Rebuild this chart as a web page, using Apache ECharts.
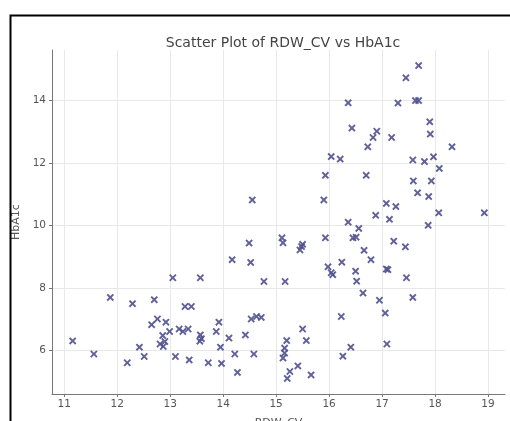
<!DOCTYPE html>
<html>
<head>
<meta charset="utf-8">
<script src="https://cdn.jsdelivr.net/npm/echarts@6/dist/echarts.min.js"></script>
<style>html,body{margin:0;padding:0;background:#fff;}#c{width:510px;height:421px;}</style>
</head>
<body>
<div id="c"></div>
<script>
const rdwCv = [11.16,11.56,11.87,12.19,12.29,12.42,12.51,12.65,12.70,12.76,12.81,12.86,12.87,12.90,12.92,12.99,13.05,13.10,13.17,13.24,13.28,13.40,13.34,13.36,13.57,13.57,13.59,13.56,13.72,13.87,13.92,13.95,13.97,14.11,14.17,14.22,14.27,14.42,14.49,14.52,14.53,14.55,14.58,14.63,14.72,14.77,15.11,15.13,15.13,15.16,15.16,15.17,15.20,15.21,15.26,15.41,15.45,15.48,15.50,15.50,15.57,15.66,15.90,15.93,15.93,15.98,16.04,16.07,16.04,16.21,16.23,16.24,16.26,16.36,16.36,16.41,16.43,16.45,16.51,16.50,16.52,16.56,16.64,16.66,16.70,16.73,16.79,16.83,16.88,16.90,16.95,17.06,17.08,17.08,17.11,17.09,17.14,17.18,17.22,17.26,17.30,17.44,17.45,17.46,17.58,17.58,17.59,17.63,17.69,17.67,17.69,17.80,17.87,17.88,17.90,17.91,17.93,17.97,18.07,18.08,18.32,18.93];
const hba1c = [6.31,5.89,7.70,5.61,7.50,6.11,5.81,6.83,7.63,7.01,6.21,6.48,6.13,6.29,6.91,6.61,8.33,5.81,6.69,6.61,7.41,7.41,6.69,5.70,8.33,6.50,6.38,6.30,5.61,6.61,6.91,6.11,5.59,6.40,8.91,5.89,5.30,6.50,9.44,8.82,7.01,10.82,5.89,7.09,7.06,8.21,9.61,9.45,5.76,6.08,5.92,8.21,6.32,5.11,5.33,5.51,9.22,9.33,9.40,6.69,6.32,5.22,10.82,11.61,9.61,8.68,8.49,8.43,12.21,12.13,7.09,8.83,5.82,10.11,13.93,6.11,13.12,9.61,9.63,8.54,8.22,9.91,7.84,9.21,11.61,12.52,8.91,12.82,10.33,13.02,7.61,7.20,10.71,8.61,8.59,6.21,10.20,12.82,9.50,10.61,13.92,9.32,14.73,8.33,7.70,12.10,11.43,14.00,14.00,11.05,15.12,12.05,10.01,10.93,13.32,12.93,11.43,12.20,10.41,11.83,12.52,10.41];
const xTicks = [11,12,13,14,15,16,17,18,19];
const yTicks = [6,8,10,12,14];

const points = rdwCv.map((v, i) => [v, hba1c[i]]);
const xPath = 'path://M0,1.8L1.8,0L5,3.2L8.2,0L10,1.8L6.8,5L10,8.2L8.2,10L5,6.8L1.8,10L0,8.2L3.2,5Z';
const font = 'DejaVu Sans';
const chart = echarts.init(document.getElementById('c'));
chart.setOption({
  animation: false,
  backgroundColor: '#fff',
  title: {
    text: 'Scatter Plot of RDW_CV vs HbA1c',
    left: 278, textAlign: 'center', top: 31,
    textStyle: {fontFamily: font, fontSize: 14, fontWeight: 'normal', color: '#444'}
  },
  grid: {left: 52, right: 5, top: 50, bottom: 27, containLabel: false, outerBoundsMode: 'none'},
  xAxis: {
    type: 'value', min: 10.77, max: 19.32,
    name: 'RDW_CV', nameLocation: 'middle', nameGap: 24,
    nameTextStyle: {fontFamily: font, fontSize: 11, color: '#555'},
    axisLine: {show: true, onZero: false, lineStyle: {color: '#777', width: 1}},
    axisTick: {show: true, length: 3, lineStyle: {color: '#777'}, customValues: xTicks},
    axisLabel: {fontFamily: font, fontSize: 10.5, color: '#555', margin: 5, customValues: xTicks},
    splitLine: {show: true, lineStyle: {color: '#e8e8e8', width: 1}}
  },
  yAxis: {
    type: 'value', min: 4.61, max: 15.62,
    name: 'HbA1c', nameLocation: 'middle', nameGap: 25, nameRotate: 90,
    nameTextStyle: {fontFamily: font, fontSize: 11, color: '#555'},
    axisLine: {show: true, onZero: false, lineStyle: {color: '#777', width: 1}},
    axisTick: {show: true, length: 3, lineStyle: {color: '#777'}, customValues: yTicks},
    axisLabel: {fontFamily: font, fontSize: 10.5, color: '#555', margin: 6, customValues: yTicks},
    splitLine: {show: true, lineStyle: {color: '#e8e8e8', width: 1}}
  },
  graphic: [{
    type: 'rect', left: 8, top: 13, silent: true, z: 100,
    shape: {width: 560, height: 460},
    style: {fill: 'none', stroke: '#000', lineWidth: 2}
  }],
  series: [{
    type: 'scatter',
    data: points,
    symbol: xPath,
    symbolSize: 7.5,
    itemStyle: {color: '#50508f', opacity: 0.9}
  }]
});
</script>
</body>
</html>
